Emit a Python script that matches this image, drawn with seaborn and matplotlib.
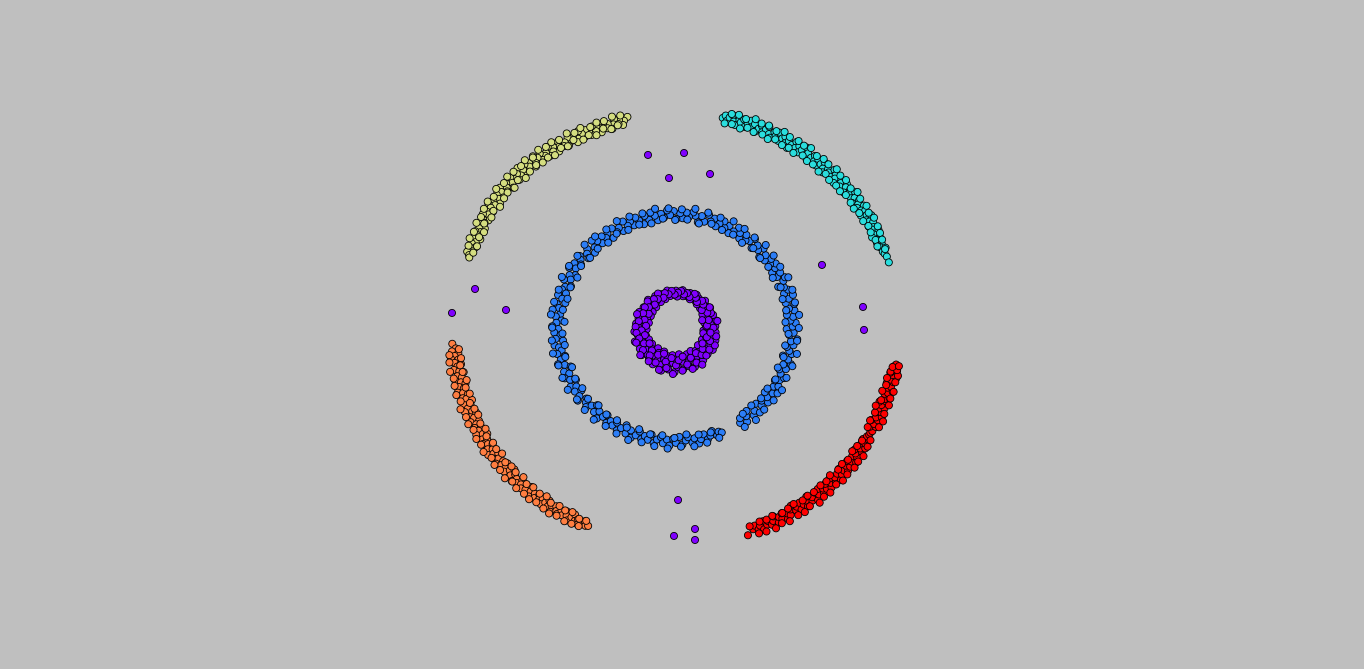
import numpy as np
import pandas as pd
import matplotlib
matplotlib.use("Agg")
import matplotlib.pyplot as plt
import seaborn as sns

# ---------------- data (angles in degrees, radii in data units) ----------------
# upper-left arc (yellow-green)
yg_theta = [102.3, 103.4, 103.9, 104.6, 105.0, 105.8, 106.3, 106.9, 107.7, 108.1,
            108.8, 109.5, 109.9, 110.7, 111.2, 111.8, 112.6, 113.0, 113.7, 114.4,
            114.9, 115.5, 116.3, 116.8, 117.4, 118.1, 118.6, 119.4, 119.9, 120.5,
            121.3, 121.8, 122.4, 123.1, 123.7, 124.2, 125.0, 125.5, 126.1, 126.9,
            127.3, 128.0, 128.7, 129.2, 129.8, 130.6, 131.1, 131.7, 132.5, 132.9,
            133.6, 134.3, 134.8, 135.4, 136.2, 136.7, 137.3, 138.1, 138.5, 139.2,
            139.9, 140.4, 141.0, 141.8, 142.3, 142.9, 143.7, 144.1, 144.8, 145.5,
            146.0, 146.6, 147.4, 147.8, 148.5, 149.2, 149.7, 150.3, 151.1, 151.6,
            152.2, 153.0, 153.4, 154.1, 154.8, 155.3, 156.0, 156.7, 157.3, 158.0,
            158.6, 159.2, 159.9, 160.5]
yg_r = [2.20, 2.17, 2.13, 2.19, 2.15, 2.21, 2.16, 2.12, 2.18, 2.14,
        2.20, 2.16, 2.12, 2.19, 2.15, 2.21, 2.13, 2.17, 2.20, 2.14,
        2.18, 2.22, 2.15, 2.12, 2.19, 2.16, 2.21, 2.13, 2.18, 2.15,
        2.22, 2.17, 2.13, 2.20, 2.16, 2.23, 2.14, 2.19, 2.17, 2.22,
        2.15, 2.20, 2.24, 2.17, 2.14, 2.21, 2.18, 2.23, 2.16, 2.20,
        2.25, 2.17, 2.21, 2.15, 2.19, 2.23, 2.18, 2.14, 2.22, 2.19,
        2.16, 2.24, 2.20, 2.15, 2.22, 2.18, 2.14, 2.21, 2.17, 2.23,
        2.19, 2.15, 2.20, 2.17, 2.22, 2.14, 2.19, 2.16, 2.21, 2.13,
        2.18, 2.15, 2.20, 2.16, 2.12, 2.19, 2.15, 2.18, 2.13, 2.17,
        2.14, 2.19, 2.16, 2.15]
yg_theta2 = [104.0, 105.3, 106.1, 107.2, 108.4, 109.2, 110.3, 111.5, 112.2, 113.4,
             114.6, 115.2, 116.5, 117.6, 118.3, 119.7, 120.8, 121.5, 122.8, 123.9,
             124.6, 125.8, 126.6, 127.7, 128.9, 129.5, 130.9, 131.9, 132.6, 133.9,
             135.0, 135.8, 137.0, 137.9, 138.8, 140.1, 141.2, 141.9, 143.2, 144.4,
             145.1, 146.3, 147.2, 148.1, 149.4, 150.5, 151.3, 152.6, 153.7, 154.4,
             155.7, 156.9, 157.6, 158.9]
yg_r2 = [2.23, 2.14, 2.24, 2.12, 2.22, 2.15, 2.23, 2.11, 2.21, 2.14,
         2.24, 2.12, 2.22, 2.16, 2.25, 2.13, 2.23, 2.15, 2.25, 2.12,
         2.24, 2.14, 2.26, 2.13, 2.23, 2.15, 2.26, 2.14, 2.24, 2.12,
         2.25, 2.16, 2.26, 2.13, 2.24, 2.15, 2.26, 2.14, 2.23, 2.12,
         2.25, 2.15, 2.24, 2.13, 2.22, 2.16, 2.23, 2.12, 2.21, 2.14,
         2.22, 2.12, 2.20, 2.13]

# upper-right arc (cyan)
cy_theta = [77.6, 77.0, 76.4, 75.9, 75.2, 74.6, 74.1, 73.3, 72.8, 72.2,
            71.5, 71.0, 70.4, 69.7, 69.2, 68.5, 67.9, 67.4, 66.7, 66.1,
            65.6, 64.9, 64.3, 63.8, 63.1, 62.6, 61.9, 61.3, 60.8, 60.1,
            59.5, 59.0, 58.3, 57.7, 57.2, 56.5, 55.9, 55.4, 54.7, 54.1,
            53.6, 52.9, 52.3, 51.8, 51.1, 50.5, 50.0, 49.3, 48.8, 48.1,
            47.5, 47.0, 46.3, 45.7, 45.2, 44.5, 44.0, 43.4, 42.7, 42.1,
            41.6, 40.9, 40.4, 39.7, 39.1, 38.6, 37.9, 37.3, 36.8, 36.1,
            35.6, 34.9, 34.3, 33.8, 33.1, 32.5, 32.0, 31.3, 30.7, 30.2,
            29.5, 28.9, 28.4, 27.7, 27.2, 26.5, 25.9, 25.4, 24.7, 24.1,
            23.5, 22.8, 22.2, 21.5, 20.8, 20.1, 19.2, 17.6]
cy_r = [2.19, 2.22, 2.17, 2.21, 2.24, 2.18, 2.15, 2.21, 2.19, 2.23,
        2.16, 2.20, 2.24, 2.18, 2.22, 2.15, 2.19, 2.23, 2.17, 2.21,
        2.25, 2.18, 2.15, 2.22, 2.19, 2.24, 2.16, 2.20, 2.23, 2.17,
        2.21, 2.14, 2.19, 2.24, 2.18, 2.22, 2.16, 2.20, 2.25, 2.17,
        2.21, 2.15, 2.19, 2.23, 2.18, 2.22, 2.16, 2.20, 2.24, 2.18,
        2.15, 2.21, 2.19, 2.25, 2.17, 2.22, 2.19, 2.15, 2.23, 2.20,
        2.17, 2.24, 2.21, 2.16, 2.22, 2.19, 2.25, 2.18, 2.21, 2.16,
        2.23, 2.20, 2.17, 2.24, 2.19, 2.22, 2.16, 2.21, 2.25, 2.18,
        2.20, 2.23, 2.17, 2.21, 2.19, 2.24, 2.18, 2.15, 2.22, 2.19,
        2.17, 2.21, 2.18, 2.23, 2.19, 2.20, 2.21, 2.21]
cy_theta2 = [76.8, 75.6, 74.9, 73.8, 72.5, 71.8, 70.7, 69.5, 68.8, 67.7,
             66.4, 65.8, 64.6, 63.5, 62.8, 61.6, 60.5, 59.8, 58.6, 57.4,
             56.8, 55.6, 54.4, 53.8, 52.6, 51.4, 50.8, 49.6, 48.4, 47.8,
             46.6, 45.4, 44.8, 43.6, 42.4, 41.8, 40.6, 39.4, 38.8, 37.6,
             36.4, 35.8, 34.6, 33.4, 32.8, 31.6, 30.4, 29.8, 28.6, 27.4,
             26.8, 25.6, 24.4, 23.8, 22.6, 21.2]
cy_r2 = [2.14, 2.25, 2.15, 2.26, 2.13, 2.24, 2.16, 2.27, 2.14, 2.25,
         2.15, 2.26, 2.13, 2.24, 2.16, 2.27, 2.14, 2.25, 2.15, 2.26,
         2.13, 2.25, 2.16, 2.27, 2.14, 2.24, 2.15, 2.26, 2.13, 2.25,
         2.16, 2.27, 2.14, 2.25, 2.15, 2.26, 2.14, 2.24, 2.16, 2.27,
         2.15, 2.25, 2.14, 2.26, 2.16, 2.24, 2.15, 2.26, 2.17, 2.25,
         2.16, 2.24, 2.17, 2.23, 2.16, 2.22]

# lower-left arc (orange)
or_theta = [184.2, 185.5, 186.2, 186.8, 187.5, 188.1, 188.6, 189.3, 189.9, 190.4,
            191.1, 191.7, 192.2, 192.9, 193.5, 194.0, 194.7, 195.3, 195.8, 196.5,
            197.1, 197.6, 198.3, 198.9, 199.4, 200.1, 200.7, 201.2, 201.9, 202.5,
            203.0, 203.7, 204.3, 204.8, 205.5, 206.1, 206.6, 207.3, 207.9, 208.4,
            209.1, 209.7, 210.2, 210.9, 211.5, 212.0, 212.7, 213.3, 213.8, 214.5,
            215.1, 215.6, 216.3, 216.9, 217.4, 218.1, 218.7, 219.2, 219.9, 220.5,
            221.0, 221.7, 222.3, 222.8, 223.5, 224.1, 224.6, 225.3, 225.9, 226.4,
            227.1, 227.7, 228.2, 228.9, 229.5, 230.0, 230.7, 231.3, 231.8, 232.5,
            233.1, 233.6, 234.3, 234.9, 235.4, 236.1, 236.7, 237.2, 237.9, 238.5,
            239.0, 239.7, 240.3, 240.8, 241.5, 242.1, 242.6, 243.3, 243.9, 244.4,
            245.1, 245.7, 246.3, 247.0]
or_r = [2.20, 2.17, 2.21, 2.15, 2.19, 2.23, 2.16, 2.20, 2.14, 2.18,
        2.22, 2.17, 2.13, 2.20, 2.16, 2.23, 2.18, 2.14, 2.21, 2.17,
        2.24, 2.19, 2.15, 2.21, 2.18, 2.13, 2.22, 2.16, 2.20, 2.24,
        2.17, 2.14, 2.21, 2.18, 2.23, 2.15, 2.19, 2.22, 2.16, 2.20,
        2.24, 2.18, 2.14, 2.21, 2.17, 2.23, 2.19, 2.15, 2.22, 2.18,
        2.25, 2.20, 2.16, 2.22, 2.19, 2.24, 2.17, 2.21, 2.15, 2.20,
        2.23, 2.18, 2.14, 2.21, 2.17, 2.24, 2.19, 2.22, 2.16, 2.20,
        2.23, 2.17, 2.21, 2.15, 2.19, 2.24, 2.18, 2.22, 2.16, 2.20,
        2.17, 2.23, 2.19, 2.15, 2.21, 2.18, 2.24, 2.16, 2.20, 2.22,
        2.17, 2.21, 2.15, 2.19, 2.23, 2.18, 2.14, 2.20, 2.17, 2.22,
        2.19, 2.16, 2.20, 2.19]
or_theta2 = [185.8, 187.1, 188.3, 189.0, 190.2, 191.4, 192.1, 193.3, 194.5, 195.2,
             196.4, 197.6, 198.3, 199.5, 200.7, 201.4, 202.6, 203.8, 204.5, 205.7,
             206.9, 207.6, 208.8, 210.0, 210.7, 211.9, 213.1, 213.8, 215.0, 216.2,
             216.9, 218.1, 219.3, 220.0, 221.2, 222.4, 223.1, 224.3, 225.5, 226.2,
             227.4, 228.6, 229.3, 230.5, 231.7, 232.4, 233.6, 234.8, 235.5, 236.7,
             237.9, 238.6, 239.8, 241.0, 241.7, 242.9, 244.1, 244.8, 246.0]
or_r2 = [2.14, 2.24, 2.13, 2.25, 2.15, 2.26, 2.14, 2.24, 2.12, 2.25,
         2.15, 2.26, 2.13, 2.24, 2.16, 2.27, 2.14, 2.25, 2.13, 2.26,
         2.15, 2.24, 2.13, 2.26, 2.16, 2.25, 2.14, 2.27, 2.15, 2.24,
         2.13, 2.26, 2.16, 2.25, 2.14, 2.27, 2.15, 2.24, 2.13, 2.26,
         2.16, 2.25, 2.14, 2.26, 2.15, 2.24, 2.13, 2.25, 2.16, 2.26,
         2.14, 2.24, 2.15, 2.25, 2.13, 2.24, 2.16, 2.23, 2.15]

# lower-right arc (red)
rd_theta = [288.8, 290.6, 291.3, 291.9, 292.6, 293.2, 293.7, 294.4, 295.0, 295.5,
            296.2, 296.8, 297.3, 298.0, 298.6, 299.1, 299.8, 300.4, 300.9, 301.6,
            302.2, 302.7, 303.4, 304.0, 304.5, 305.2, 305.8, 306.3, 307.0, 307.6,
            308.1, 308.8, 309.4, 309.9, 310.6, 311.2, 311.7, 312.4, 313.0, 313.5,
            314.2, 314.8, 315.3, 316.0, 316.6, 317.1, 317.8, 318.4, 318.9, 319.6,
            320.2, 320.7, 321.4, 322.0, 322.5, 323.2, 323.8, 324.3, 325.0, 325.6,
            326.1, 326.8, 327.4, 327.9, 328.6, 329.2, 329.7, 330.4, 331.0, 331.6,
            332.4, 333.0, 333.5, 334.2, 334.8, 335.3, 336.0, 336.6, 337.1, 337.8,
            338.4, 338.9, 339.6, 340.2, 340.7, 341.4, 342.0, 342.5, 343.2, 343.8,
            344.3, 345.0, 345.6, 346.1, 346.8, 347.4, 347.9, 348.6, 349.2, 349.7,
            350.3]
rd_r = [2.23, 2.19, 2.16, 2.21, 2.18, 2.23, 2.15, 2.20, 2.17, 2.22,
        2.19, 2.15, 2.23, 2.18, 2.21, 2.16, 2.24, 2.19, 2.22, 2.17,
        2.14, 2.21, 2.18, 2.23, 2.16, 2.20, 2.24, 2.18, 2.15, 2.22,
        2.19, 2.25, 2.17, 2.21, 2.16, 2.23, 2.19, 2.22, 2.17, 2.24,
        2.20, 2.16, 2.23, 2.19, 2.25, 2.18, 2.22, 2.16, 2.21, 2.24,
        2.19, 2.23, 2.17, 2.21, 2.25, 2.18, 2.22, 2.19, 2.16, 2.23,
        2.20, 2.24, 2.18, 2.21, 2.17, 2.22, 2.19, 2.20, 2.20, 2.21,
        2.17, 2.22, 2.19, 2.15, 2.21, 2.18, 2.23, 2.16, 2.20, 2.17,
        2.22, 2.18, 2.15, 2.21, 2.19, 2.23, 2.17, 2.20, 2.24, 2.18,
        2.21, 2.16, 2.22, 2.19, 2.24, 2.20, 2.17, 2.23, 2.21, 2.19,
        2.21]
rd_theta2 = [290.0, 291.6, 292.9, 293.5, 294.8, 296.0, 296.6, 297.9, 299.3, 299.9,
             301.2, 302.5, 303.1, 304.3, 305.6, 306.2, 307.4, 308.7, 309.3, 310.5,
             311.8, 312.4, 313.7, 314.9, 315.5, 316.8, 318.1, 318.7, 319.9, 321.2,
             321.8, 323.0, 324.3, 324.9, 326.2, 327.5, 328.1, 329.3, 332.0, 333.3,
             333.9, 335.1, 336.4, 337.0, 338.2, 339.5, 340.1, 341.3, 342.6, 343.2,
             344.4, 345.7, 346.3, 347.5, 348.2, 348.9, 349.5, 350.0]
rd_r2 = [2.15, 2.25, 2.14, 2.26, 2.15, 2.27, 2.14, 2.25, 2.16, 2.27,
         2.15, 2.26, 2.14, 2.27, 2.16, 2.25, 2.15, 2.28, 2.16, 2.26,
         2.15, 2.27, 2.16, 2.25, 2.14, 2.27, 2.16, 2.26, 2.15, 2.27,
         2.17, 2.26, 2.15, 2.27, 2.16, 2.25, 2.17, 2.24, 2.15, 2.25,
         2.14, 2.26, 2.15, 2.24, 2.13, 2.25, 2.16, 2.24, 2.14, 2.25,
         2.16, 2.24, 2.15, 2.25, 2.17, 2.23, 2.18, 2.24]

# middle ring (blue), open at lower right
bl_theta = [303.6, 304.9, 306.7, 308.0, 309.8, 311.1, 312.9, 314.2, 316.0, 317.3,
            319.1, 320.4, 322.2, 323.5, 325.3, 326.6, 328.4, 329.7, 331.5, 332.8,
            334.6, 335.9, 337.7, 339.0, 340.8, 342.1, 343.9, 345.2, 347.0, 348.3,
            350.1, 351.4, 353.2, 354.5, 356.3, 357.6, 359.4, 0.7, 2.5, 3.8,
            5.6, 6.9, 8.7, 10.0, 11.8, 13.1, 14.9, 16.2, 18.0, 19.3,
            21.1, 22.4, 24.2, 25.5, 27.3, 28.6, 30.4, 31.7, 33.5, 34.8,
            36.6, 37.9, 39.7, 41.0, 42.8, 44.1, 45.9, 47.2, 49.0, 50.3,
            52.1, 53.4, 55.2, 56.5, 58.3, 59.6, 61.4, 62.7, 64.5, 65.8,
            67.6, 68.9, 70.7, 72.0, 73.8, 75.1, 76.9, 78.2, 80.0, 81.3,
            83.1, 84.4, 86.2, 87.5, 89.3, 90.6, 92.4, 93.7, 95.5, 96.8,
            98.6, 99.9, 101.7, 103.0, 104.8, 106.1, 107.9, 109.2, 111.0, 112.3,
            114.1, 115.4, 117.2, 118.5, 120.3, 121.6, 123.4, 124.7, 126.5, 127.8,
            129.6, 130.9, 132.7, 134.0, 135.8, 137.1, 138.9, 140.2, 142.0, 143.3,
            145.1, 146.4, 148.2, 149.5, 151.3, 152.6, 154.4, 155.7, 157.5, 158.8,
            160.6, 161.9, 163.7, 165.0, 166.8, 168.1, 169.9, 171.2, 173.0, 174.3,
            176.1, 177.4, 179.2, 180.5, 182.3, 183.6, 185.4, 186.7, 188.5, 189.8,
            191.6, 192.9, 194.7, 196.0, 197.8, 199.1, 200.9, 202.2, 204.0, 205.3,
            207.1, 208.4, 210.2, 211.5, 213.3, 214.6, 216.4, 217.7, 219.5, 220.8,
            222.6, 223.9, 225.7, 227.0, 228.8, 230.1, 231.9, 233.2, 235.0, 236.3,
            238.1, 239.4, 241.2, 242.5, 244.3, 245.6, 247.4, 248.7, 250.5, 251.8,
            253.6, 254.9, 256.7, 258.0, 259.8, 261.1, 262.9, 264.2, 266.0, 267.3,
            269.1, 270.4, 272.2, 273.5, 275.3, 276.6, 278.4, 279.7, 281.5, 282.8,
            284.6, 285.9, 287.7, 289.0, 290.8, 292.1, 293.4]
bl_r = [1.16, 1.12, 1.19, 1.14, 1.10, 1.18, 1.15, 1.20, 1.11, 1.16,
        1.13, 1.19, 1.15, 1.10, 1.17, 1.21, 1.14, 1.18, 1.12, 1.16,
        1.19, 1.14, 1.11, 1.17, 1.13, 1.20, 1.16, 1.10, 1.18, 1.15,
        1.12, 1.18, 1.15, 1.21, 1.13, 1.17, 1.10, 1.16, 1.19, 1.14,
        1.17, 1.11, 1.19, 1.14, 1.20, 1.12, 1.16, 1.21, 1.13, 1.18,
        1.15, 1.10, 1.17, 1.20, 1.13, 1.18, 1.11, 1.16, 1.19, 1.14,
        1.18, 1.12, 1.16, 1.10, 1.19, 1.14, 1.17, 1.11, 1.20, 1.15,
        1.13, 1.18, 1.11, 1.16, 1.20, 1.14, 1.10, 1.17, 1.13, 1.19,
        1.15, 1.11, 1.18, 1.14, 1.20, 1.12, 1.17, 1.10, 1.16, 1.19,
        1.14, 1.18, 1.12, 1.17, 1.11, 1.19, 1.15, 1.20, 1.13, 1.17,
        1.11, 1.16, 1.20, 1.13, 1.18, 1.10, 1.15, 1.19, 1.12, 1.17,
        1.14, 1.20, 1.11, 1.16, 1.13, 1.19, 1.10, 1.17, 1.14, 1.18,
        1.12, 1.17, 1.21, 1.14, 1.10, 1.18, 1.15, 1.11, 1.19, 1.16,
        1.13, 1.19, 1.15, 1.21, 1.12, 1.17, 1.14, 1.20, 1.11, 1.16,
        1.18, 1.13, 1.20, 1.15, 1.11, 1.19, 1.16, 1.22, 1.14, 1.18,
        1.12, 1.17, 1.21, 1.15, 1.19, 1.13, 1.18, 1.11, 1.20, 1.16,
        1.14, 1.19, 1.12, 1.17, 1.21, 1.15, 1.10, 1.18, 1.14, 1.20,
        1.16, 1.11, 1.19, 1.14, 1.18, 1.12, 1.17, 1.21, 1.13, 1.16,
        1.19, 1.14, 1.10, 1.17, 1.13, 1.20, 1.15, 1.11, 1.18, 1.14,
        1.17, 1.12, 1.19, 1.15, 1.10, 1.18, 1.13, 1.20, 1.16, 1.11,
        1.18, 1.14, 1.17, 1.11, 1.19, 1.15, 1.12, 1.18, 1.14, 1.20,
        1.13, 1.17, 1.11, 1.19, 1.15, 1.12, 1.18, 1.14, 1.20, 1.16,
        1.12, 1.18, 1.15, 1.11, 1.17, 1.14, 1.16]
bl_theta2 = [304.3, 307.4, 310.4, 313.6, 316.6, 319.8, 322.8, 325.9, 329.0, 332.1,
             335.2, 338.3, 341.4, 344.5, 347.6, 350.7, 353.8, 356.9, 0.0, 3.1,
             6.2, 9.3, 12.4, 15.5, 18.6, 21.7, 24.8, 27.9, 31.0, 34.1,
             37.2, 40.3, 43.4, 46.5, 49.6, 52.7, 55.8, 58.9, 62.0, 65.1,
             68.2, 71.3, 74.4, 77.5, 80.6, 83.7, 86.8, 89.9, 93.0, 96.1,
             99.2, 102.3, 105.4, 108.5, 111.6, 114.7, 117.8, 120.9, 124.0, 127.1,
             130.2, 133.3, 136.4, 139.5, 142.6, 145.7, 148.8, 151.9, 155.0, 158.1,
             161.2, 164.3, 167.4, 170.5, 173.6, 176.7, 179.8, 182.9, 186.0, 189.1,
             192.2, 195.3, 198.4, 201.5, 204.6, 207.7, 210.8, 213.9, 217.0, 220.1,
             223.2, 226.3, 229.4, 232.5, 235.6, 238.7, 241.8, 244.9, 248.0, 251.1,
             254.2, 257.3, 260.4, 263.5, 266.6, 269.7, 272.8, 275.9, 279.0, 282.1,
             285.2, 288.3, 291.3]
bl_r2 = [1.22, 1.10, 1.23, 1.09, 1.21, 1.11, 1.22, 1.10, 1.23, 1.12,
         1.21, 1.09, 1.22, 1.11, 1.23, 1.10, 1.21, 1.12, 1.22, 1.09,
         1.23, 1.11, 1.21, 1.10, 1.22, 1.12, 1.23, 1.09, 1.21, 1.11,
         1.22, 1.10, 1.23, 1.12, 1.21, 1.09, 1.22, 1.11, 1.23, 1.10,
         1.21, 1.12, 1.22, 1.09, 1.23, 1.11, 1.21, 1.10, 1.22, 1.12,
         1.23, 1.09, 1.21, 1.11, 1.22, 1.10, 1.23, 1.12, 1.21, 1.09,
         1.22, 1.11, 1.23, 1.10, 1.21, 1.12, 1.22, 1.09, 1.23, 1.11,
         1.21, 1.10, 1.22, 1.12, 1.23, 1.09, 1.21, 1.11, 1.22, 1.10,
         1.23, 1.12, 1.21, 1.09, 1.22, 1.11, 1.23, 1.10, 1.21, 1.12,
         1.22, 1.09, 1.23, 1.11, 1.21, 1.10, 1.22, 1.12, 1.23, 1.09,
         1.21, 1.11, 1.22, 1.10, 1.23, 1.12, 1.21, 1.09, 1.22, 1.11,
         1.21, 1.12, 1.20]

# inner ring (purple)
in_center = (0.01, -0.03)
in_theta = [1, 3, 7, 9, 12, 15, 17, 21, 24, 26,
            29, 33, 35, 38, 41, 44, 47, 49, 53, 56,
            58, 61, 65, 67, 70, 73, 76, 79, 81, 85,
            88, 90, 93, 97, 99, 102, 105, 108, 111, 113,
            117, 120, 122, 125, 129, 131, 134, 137, 140, 143,
            145, 149, 152, 154, 157, 161, 163, 166, 169, 172,
            175, 177, 181, 184, 186, 189, 193, 195, 198, 201,
            204, 207, 209, 213, 216, 218, 221, 225, 227, 230,
            233, 236, 239, 241, 245, 248, 250, 253, 257, 259,
            262, 265, 268, 271, 273, 277, 280, 282, 285, 289,
            291, 294, 297, 300, 303, 305, 309, 312, 314, 317,
            321, 323, 326, 329, 332, 335, 337, 341, 344, 346,
            349, 353, 355, 358]
in_r = [0.27, 0.33, 0.39, 0.30, 0.36, 0.41, 0.29, 0.35, 0.40, 0.32,
        0.38, 0.31, 0.41, 0.35, 0.39, 0.33, 0.42, 0.37, 0.34, 0.40,
        0.36, 0.42, 0.38, 0.35, 0.41, 0.37, 0.40, 0.36, 0.42, 0.38,
        0.35, 0.41, 0.37, 0.40, 0.36, 0.42, 0.38, 0.34, 0.40, 0.37,
        0.33, 0.41, 0.36, 0.39, 0.31, 0.42, 0.35, 0.38, 0.30, 0.40,
        0.34, 0.29, 0.41, 0.36, 0.31, 0.39, 0.28, 0.34, 0.40, 0.32,
        0.37, 0.29, 0.41, 0.33, 0.38, 0.30, 0.35, 0.42, 0.28, 0.36,
        0.32, 0.40, 0.27, 0.35, 0.42, 0.30, 0.37, 0.25, 0.39, 0.33,
        0.28, 0.41, 0.35, 0.24, 0.38, 0.31, 0.43, 0.27, 0.36, 0.40,
        0.25, 0.33, 0.42, 0.29, 0.37, 0.24, 0.40, 0.32, 0.27, 0.38,
        0.34, 0.26, 0.41, 0.30, 0.37, 0.25, 0.33, 0.40, 0.28, 0.36,
        0.31, 0.39, 0.26, 0.35, 0.41, 0.29, 0.37, 0.27, 0.33, 0.40,
        0.30, 0.36, 0.27, 0.39]
in_theta2 = [5, 10, 14, 19, 23, 28, 31, 36, 40, 45,
             50, 55, 60, 64, 69, 74, 78, 83, 87, 92,
             96, 101, 106, 110, 115, 119, 124, 128, 133, 138,
             142, 147, 151, 156, 160, 165, 170, 174, 179, 183,
             188, 192, 197, 202, 206, 211, 215, 220, 224, 229,
             234, 238, 243, 247, 252, 256, 261, 266, 270, 275,
             279, 284, 288, 293, 298, 302, 307, 311, 316, 320,
             325, 330, 334, 339, 343, 348, 352, 357]
in_r2 = [0.37, 0.31, 0.42, 0.34, 0.28, 0.39, 0.36, 0.41, 0.33, 0.38,
         0.40, 0.36, 0.39, 0.42, 0.37, 0.40, 0.38, 0.41, 0.39, 0.37,
         0.41, 0.38, 0.40, 0.36, 0.42, 0.37, 0.39, 0.34, 0.41, 0.36,
         0.39, 0.32, 0.37, 0.42, 0.33, 0.38, 0.30, 0.40, 0.34, 0.39,
         0.31, 0.37, 0.41, 0.34, 0.29, 0.38, 0.43, 0.31, 0.36, 0.41,
         0.30, 0.38, 0.26, 0.43, 0.33, 0.39, 0.28, 0.44, 0.35, 0.30,
         0.41, 0.27, 0.36, 0.42, 0.31, 0.38, 0.43, 0.30, 0.35, 0.39,
         0.32, 0.38, 0.29, 0.41, 0.35, 0.31, 0.40, 0.34]

# scattered noise points (same colour as the inner ring)
noise_x = [-0.266, 0.089, -0.059, 0.345, -1.970, -2.197, -1.665,
           1.448, 1.852, 1.862, 0.030, 0.197, -0.010, 0.197]
noise_y = [1.762, 1.782, 1.527, 1.568, 0.397, 0.153, 0.183,
           0.642, 0.214, -0.020, -1.752, -2.047, -2.118, -2.159]


# ---------------- build table ----------------
def polar(theta, r, label, center=(0.0, 0.0)):
    t = np.deg2rad(np.asarray(theta, dtype=float))
    rr = np.asarray(r, dtype=float)
    assert len(t) == len(rr), label
    return pd.DataFrame({"x": center[0] + rr * np.cos(t),
                         "y": center[1] + rr * np.sin(t),
                         "label": label})


frames = [
    pd.DataFrame({"x": noise_x, "y": noise_y, "label": "noise"}),
    polar(in_theta + in_theta2, in_r + in_r2, "inner", in_center),
    polar(bl_theta + bl_theta2, bl_r + bl_r2, "ring"),
    polar(cy_theta + cy_theta2, cy_r + cy_r2, "arc_ne"),
    polar(yg_theta + yg_theta2, yg_r + yg_r2, "arc_nw"),
    polar(or_theta + or_theta2, or_r + or_r2, "arc_sw"),
    polar(rd_theta + rd_theta2, rd_r + rd_r2, "arc_se"),
]
df = pd.concat(frames, ignore_index=True)

cmap = plt.get_cmap("rainbow")
palette = {"noise": cmap(0.0), "inner": cmap(0.0), "ring": cmap(1 / 6),
           "arc_ne": cmap(2 / 6), "arc_nw": cmap(4 / 6),
           "arc_sw": cmap(5 / 6), "arc_se": cmap(1.0)}

bg = "#bfbfbf"
fig = plt.figure(figsize=(13.64, 6.69), dpi=100, facecolor=bg)
ax = fig.add_axes([0, 0, 1, 1])
ax.set_facecolor(bg)

sns.scatterplot(data=df, x="x", y="y", hue="label", palette=palette,
                s=26, edgecolor="black", linewidth=0.6, legend=False, ax=ax)

ax.set_xlim(-6.650, 6.788)
ax.set_ylim(-3.473, 3.340)
ax.axis("off")

fig.savefig("out.png", dpi=100, facecolor=bg)
